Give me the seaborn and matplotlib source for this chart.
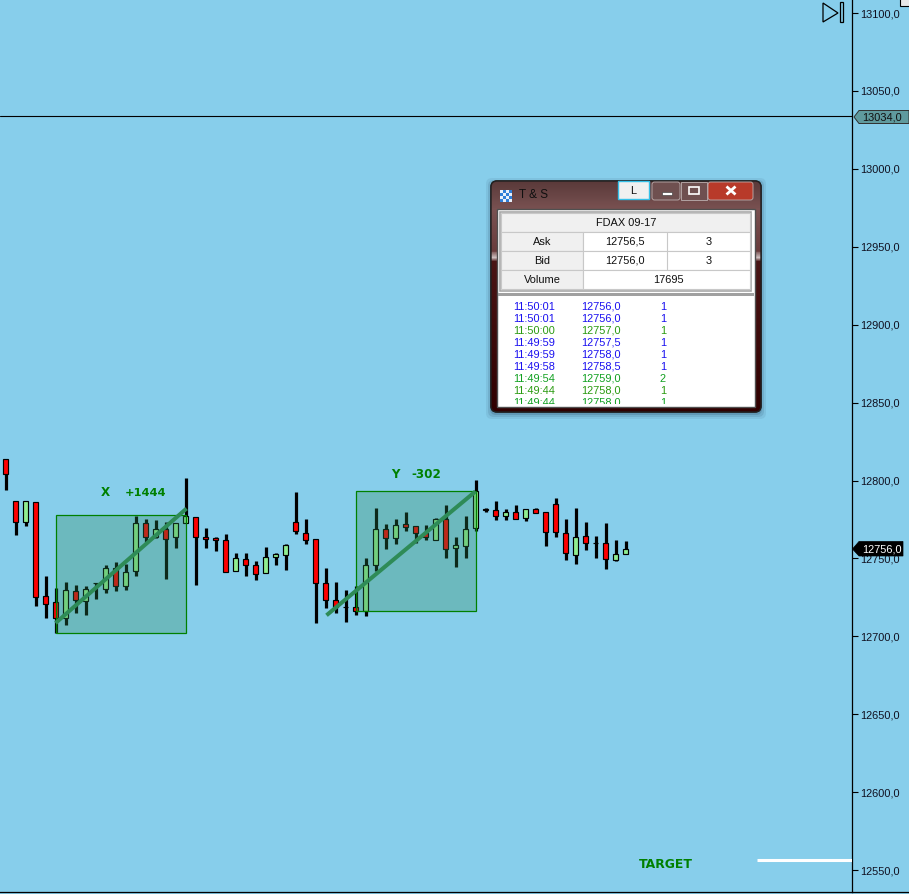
import numpy as np
import pandas as pd
import matplotlib
matplotlib.use("Agg")
import matplotlib.pyplot as plt
from matplotlib.colors import LinearSegmentedColormap
from matplotlib.patches import FancyBboxPatch, Polygon, Rectangle
import seaborn as sns

opens = [12814,12787,12773.5,12786.5,12726,12722,12712,12729,12722.5,12734,12730.5,12744,12732,12742,12773,12763.5,12769,12763.5,12772.5,12776.5,12764,12763,12762,12742,12749.5,12745.5,12740.5,12751,12752.5,12773.5,12766.5,12762.5,12734.5,12723.5,12719,12718.5,12716.5,12745.5,12769,12763,12772,12770.5,12766.5,12761.5,12775.5,12756.5,12758,12769.5,12781.5,12781,12777.5,12780,12776,12782,12780,12785,12766.5,12752.5,12764.5,12760,12760,12749,12753]
highs = [12814,12787,12787,12786.5,12738.5,12731,12735,12733,12732.5,12734.5,12745.5,12748,12746.5,12777.5,12775.5,12774.5,12773.5,12773,12801.5,12776.5,12769.5,12764,12765.5,12753.5,12753.5,12748.5,12757.5,12753.5,12759.5,12792.5,12775.5,12762.5,12744,12735,12730,12732.5,12750,12782.5,12772,12775.5,12779.5,12771,12771.5,12776,12784.5,12764,12777,12800.5,12782.5,12787,12782,12784,12782,12782.5,12780,12789,12775.5,12782.5,12773.5,12764.5,12773,12761.5,12761]
lows = [12794,12765,12770.5,12719.5,12712,12702,12707,12715,12714,12724,12727.5,12729,12729.5,12739,12760.5,12763,12737,12756.5,12772.5,12733,12757,12754.5,12741,12742,12738.5,12736,12740.5,12746,12742.5,12765.5,12759.5,12708.5,12718,12715,12709,12714,12713,12742,12756,12759.5,12767.5,12760,12761.5,12761.5,12750.5,12744.5,12750,12767.5,12779.5,12774.5,12774.5,12775,12774,12779,12758,12764,12749,12746.5,12755.5,12750,12743.5,12748.5,12753]
closes = [12804.5,12773.5,12787,12725.5,12721,12712,12729.5,12723.5,12730.5,12734,12744,12732,12741.5,12773,12763.5,12769,12762.5,12773,12777.5,12764,12762.5,12762,12741,12750.5,12745.5,12740,12751,12753,12758.5,12767.5,12761.5,12734,12723,12718.5,12719,12716.5,12746,12769,12763,12771.5,12770,12766,12764,12775.5,12756,12758.5,12769,12793.5,12781,12777.5,12780,12775,12781.5,12779,12767,12767,12753.5,12764,12760,12760,12749.5,12753,12756]

y_ticks = [12550,12600,12650,12700,12750,12800,12850,12900,12950,13000,13050,13100]
line_price = 13034.0
last_price = 12756.0
target_price = 12556.5
target_span = [75.1, 84.65]
box_x = dict(start=5, end=18, low=12702, high=12778)
box_y = dict(start=35, end=47, low=12716, high=12793.5)
trend_x = pd.DataFrame({"i": [5, 18.1], "price": [12708.5, 12782]})
trend_y = pd.DataFrame({"i": [32.1, 47], "price": [12713.5, 12793]})

quote_rows = [("Ask", "12756,5", "3"), ("Bid", "12756,0", "3")]
volume = "17695"
contract = "FDAX 09-17"
tape_times = ["11:50:01","11:50:01","11:50:00","11:49:59","11:49:59","11:49:58","11:49:54","11:49:44","11:49:44"]
tape_prices = ["12756,0","12756,0","12757,0","12757,5","12758,0","12758,5","12759,0","12758,0","12758,0"]
tape_sizes = ["1","1","1","1","1","1","2","1","1"]
tape_colors = ["#1a10f0","#1a10f0","#2a9a10","#1a10f0","#1a10f0","#1a10f0","#10a020","#2a9a10","#10a020"]

BG = "#87CEEB"
sns.set_theme(style="white", rc={"axes.facecolor": BG, "figure.facecolor": BG})
plt.rcParams["font.family"] = ["Liberation Sans", "DejaVu Sans"]

df = pd.DataFrame({"i": range(len(opens)), "o": opens, "h": highs, "l": lows, "c": closes})
df["top"] = df[["o", "c"]].max(axis=1)
df["bottom"] = df[["o", "c"]].min(axis=1)
df["color"] = np.where(df.c > df.o, "#90EE90", "#FF0000")
wicks = df.melt(id_vars="i", value_vars=["h", "l"], value_name="price").sort_values(["i", "variable"])

W, H = 909, 894
fig = plt.figure(figsize=(W / 100, H / 100), dpi=100)
ax = fig.add_axes([0, 2 / H, 852 / W, 892 / H])
ax.set_xlim(-0.55, 84.65)
ax.set_ylim(12535.9, 13108.4)

sns.lineplot(data=wicks, x="i", y="price", units="i", estimator=None, color="black",
             linewidth=2.3, sort=False, legend=False, ax=ax, zorder=2,
             solid_capstyle="butt")
ax.bar(df.i, df.top - df.bottom, bottom=df.bottom, width=0.47, color=df.color,
       edgecolor="black", linewidth=0.85, zorder=2.5)

for b in (box_x, box_y):
    ax.add_patch(Rectangle((b["start"], b["low"]), b["end"] - b["start"], b["high"] - b["low"],
                           facecolor=(0.18, 0.545, 0.34, 0.30), edgecolor="#008000", linewidth=0.9, zorder=3))
for t in (trend_x, trend_y):
    sns.lineplot(data=t, x="i", y="price", color="#2E8B57", linewidth=2.9, ax=ax, zorder=4,
                 solid_capstyle="butt", legend=False, estimator=None)

ax.axhline(line_price, color="black", linewidth=0.8, zorder=5)
sns.lineplot(x=target_span, y=[target_price, target_price], color="white", linewidth=2.2,
             ax=ax, zorder=5, estimator=None, solid_capstyle="butt")

ax.set_xlabel("")
ax.set_ylabel("")
ax.set_xticks([])
ax.yaxis.tick_right()
ax.set_yticks(y_ticks)
ax.set_yticklabels([f"{v:.1f}".replace(".", ",") for v in y_ticks], fontsize=7.9, color="#101020")
ax.tick_params(axis="y", which="major", length=4.5, width=0.8, color="black", pad=1.5, right=True, left=False)
for s in ("top", "left"):
    ax.spines[s].set_visible(False)
for s in ("right", "bottom"):
    ax.spines[s].set_visible(True)
    ax.spines[s].set_color("black")
    ax.spines[s].set_linewidth(0.9)
ax.plot([1, W / 852], [0, 0], transform=ax.transAxes, color="black", lw=0.9, clip_on=False)

# Pixel-space overlay for the annotations and the floating window
ov = fig.add_axes([0, 0, 1, 1], facecolor="none")
ov.set_xlim(0, W)
ov.set_ylim(H, 0)
ov.axis("off")

GREEN = "#008000"
txt = dict(family=["DejaVu Sans"], fontweight="bold", color=GREEN, fontsize=8.6, va="center")
ov.text(101, 492.5, "X", ha="left", **txt)
ov.text(125, 492.5, "+1444", ha="left", **{**txt, "fontsize": 8.2})
ov.text(391, 475, "Y", ha="left", **txt)
ov.text(411, 475, "-302", ha="left", **txt)
ov.text(639, 864, "TARGET", ha="left", **{**txt, "fontsize": 8.9})

# Price tags
ov.add_patch(Polygon([(854, 117), (859, 110.5), (909, 110.5), (909, 123.5), (859, 123.5)],
                     closed=True, facecolor="#5F9A9E", edgecolor="#303030", linewidth=0.7, zorder=6))
ov.text(862, 117.5, f"{line_price:.1f}".replace(".", ","), fontsize=7.9, color="#101010", va="center", ha="left", zorder=7)
ov.add_patch(Polygon([(852.5, 549), (859, 541.5), (903, 541.5), (903, 556), (859, 556)],
                     closed=True, facecolor="black", edgecolor="black", linewidth=0.5, zorder=6))
ov.text(862, 549, f"{last_price:.1f}".replace(".", ","), fontsize=7.9, color="white", va="center", ha="left", zorder=7)

# Jump-to-end icon
ov.add_patch(Polygon([(823, 3), (823, 22), (838, 13)], closed=True, fill=False, edgecolor="black", linewidth=0.9, zorder=6))
ov.add_patch(Rectangle((839.5, 2), 3, 20, fill=False, edgecolor="black", linewidth=0.9, zorder=6))
ov.add_patch(Rectangle((899.5, -2), 12, 8, facecolor="#E8E8E8", edgecolor="black", linewidth=0.8, zorder=6))

# Window shadow and frame
for grow, a in ((6, 0.08), (4, 0.12), (2, 0.18)):
    ov.add_patch(FancyBboxPatch((491 - grow + 1, 181 - grow + 3), 270 + 2 * grow - 2, 231 + 2 * grow - 2,
                                boxstyle="round,pad=0,rounding_size=6", facecolor=(0.1, 0.2, 0.3, a),
                                edgecolor="none", zorder=8))
frame = FancyBboxPatch((491, 181), 270, 231, boxstyle="round,pad=0,rounding_size=6",
                       facecolor="#3a0505", edgecolor="#202020", linewidth=1.0, zorder=9)
ov.add_patch(frame)
grad = LinearSegmentedColormap.from_list("chrome", [(0, "#5a3a3a"), (0.12, "#7a5252"), (0.30, "#6a3c3c"),
                                                     (0.33, "#cfc0c0"), (0.345, "#4a1515"), (1, "#300000")])
im = ov.imshow(np.linspace(0, 1, 231)[:, None], extent=(491, 761, 412, 181), cmap=grad, aspect="auto", zorder=9.1)
im.set_clip_path(frame)
ov.set_xlim(0, W)
ov.set_ylim(H, 0)
ov.add_patch(FancyBboxPatch((491, 181), 270, 231, boxstyle="round,pad=0,rounding_size=6",
                            fill=False, edgecolor="#202020", linewidth=1.0, zorder=9.2))
ov.text(519, 194.5, "T & S", fontsize=8.5, color="#101010", va="center", ha="left", zorder=10)
for r in range(4):
    for c in range(4):
        col = "#2f7fd8" if (r + c) % 2 else "#e8f0fa"
        ov.add_patch(Rectangle((500 + 3 * c, 189.5 + 3 * r), 3, 3, facecolor=col, edgecolor="none", zorder=10))

# Title-bar buttons
ov.add_patch(Rectangle((618, 181), 31, 18, facecolor="#f0f0f0", edgecolor="#35c0e8", linewidth=1.0, zorder=10))
ov.text(633.5, 190.5, "L", fontsize=7.9, color="#101010", va="center", ha="center", zorder=11)
ov.add_patch(FancyBboxPatch((652, 182), 28, 18, boxstyle="round,pad=0,rounding_size=2.5", facecolor="#6f5050",
                            edgecolor="#bdb0b0", linewidth=0.6, zorder=10))
ov.add_patch(Rectangle((681, 182), 26, 18, facecolor="#6f5050", edgecolor="#bdb0b0", linewidth=0.6, zorder=10))
ov.add_patch(FancyBboxPatch((708, 182), 45, 18, boxstyle="round,pad=0,rounding_size=2.5", facecolor="#b83a2a",
                            edgecolor="#bdb0b0", linewidth=0.6, zorder=10))
ov.add_patch(Rectangle((662, 192), 10, 2.5, facecolor="white", edgecolor="#303030", linewidth=0.4, zorder=11))
ov.add_patch(Rectangle((689, 187), 10, 7, fill=False, edgecolor="white", linewidth=1.2, zorder=11))
for dy in (1, -1):
    ov.plot([726.5, 735.5], [190.5 - 4 * dy, 190.5 + 4 * dy], color="white", lw=2.0, zorder=11, solid_capstyle="butt")

# Window interior
ov.add_patch(Rectangle((497, 209), 258, 198, facecolor="white", edgecolor="#505050", linewidth=1.0, zorder=10))
ov.add_patch(Rectangle((500, 212), 251, 79, facecolor="white", edgecolor="#a8a8a8", linewidth=1.2, zorder=10.1))
ov.add_patch(Rectangle((501, 213), 249, 19, facecolor="#f0f0f0", edgecolor="#c8c8c8", linewidth=0.8, zorder=10.2))
row_top = [232, 251, 270]
labels = [q[0] for q in quote_rows] + ["Volume"]
for top, lab in zip(row_top, labels):
    ov.add_patch(Rectangle((501, top), 82, 19, facecolor="#f0f0f0", edgecolor="#c8c8c8", linewidth=0.8, zorder=10.2))
    ov.add_patch(Rectangle((583, top), 167, 19, facecolor="white", edgecolor="#c8c8c8", linewidth=0.8, zorder=10.2))
    ov.text(542.5, top + 9.8, lab, fontsize=7.9, color="#101010", va="center", ha="center", zorder=11)
for top in row_top[:2]:
    ov.plot([666.5, 666.5], [top, top + 19], color="#c8c8c8", lw=0.8, zorder=10.3)
cell = dict(fontsize=7.9, color="#101010", va="center", ha="center", zorder=11)
ov.text(626, 223.5, contract, **cell)
for top, (_, price, size) in zip(row_top, quote_rows):
    ov.text(625, top + 9.8, price, **cell)
    ov.text(709, top + 9.8, size, **cell)
ov.text(668, 279.8, volume, **cell)
ov.add_patch(Rectangle((498, 292.5), 256, 3, facecolor="#a0a0a0", edgecolor="none", zorder=10.2))

clip = Rectangle((499, 296), 254, 108, transform=ov.transData)
for k, (tm, pr, sz, col) in enumerate(zip(tape_times, tape_prices, tape_sizes, tape_colors)):
    y = 306.7 + 12 * k
    for x, s, ha in ((513, tm, "left"), (581, pr, "left"), (663, sz, "center")):
        t = ov.text(x, y, s, fontsize=7.9, color=col, va="center", ha=ha, zorder=11, clip_on=True)
        t.set_clip_path(clip)

fig.savefig("out.png", dpi=100, facecolor=BG)
